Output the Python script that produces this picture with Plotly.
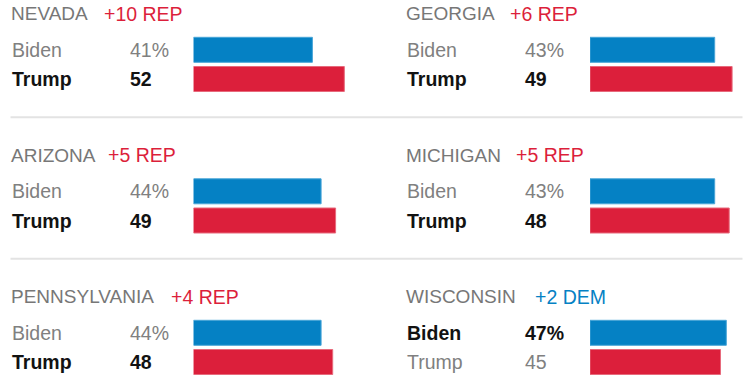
import plotly.graph_objects as go

# ---- data ----
states = ["NEVADA", "GEORGIA", "ARIZONA", "MICHIGAN", "PENNSYLVANIA", "WISCONSIN"]
margins = ["+10 REP", "+6 REP", "+5 REP", "+5 REP", "+4 REP", "+2 DEM"]
margin_party = ["REP", "REP", "REP", "REP", "REP", "DEM"]
candidates = ["Biden", "Trump"]
biden = [41, 43, 44, 43, 44, 47]
trump = [52, 49, 49, 48, 48, 45]

# ---- layout / style ----
W, H = 750, 375
MARGIN_LABEL_X = [101.5, 507.5, 105.5, 514.2, 169, 532.5]  # pixel x of "+N REP" labels
BLUE = "#0581c4"
RED = "#dc1f3b"
BLUE_EDGE = "#49a5d8"
RED_EDGE = "#e76a7c"
GRAY = "#808080"
BLACK = "#121212"
FONT = "Liberation Sans"
FS = 19.5
FS_TITLE = 19

def px(x):
    return x / W

def py(y):
    return 1 - y / H

fig = go.Figure()
annotations = []
layout = {}
PITCH = 29.2

for i, st in enumerate(states):
    col, row = i % 2, i // 2
    n = i + 1
    xs = "" if n == 1 else str(n)
    x0 = 193.5 + col * 396.5
    scale = 2.9
    xmax = 54
    top = 35.2 + 141.5 * row
    bot = min(top + 2 * PITCH, H)
    vals = [biden[i], trump[i]]
    fig.add_trace(go.Bar(
        x=vals, y=candidates, orientation="h",
        xaxis="x" + xs, yaxis="y" + xs,
        marker=dict(color=[BLUE, RED], line=dict(color=[BLUE_EDGE, RED_EDGE], width=1)),
        showlegend=False, hoverinfo="skip",
    ))
    layout["xaxis" + xs] = dict(
        domain=[px(x0), min(px(x0 + scale * xmax), 1)], range=[0, xmax],
        visible=False, fixedrange=True, anchor="y" + xs,
    )
    layout["yaxis" + xs] = dict(
        domain=[max(py(bot), 0), py(top)], type="category",
        categoryorder="array", categoryarray=candidates,
        range=[-0.5 + (bot - top) / PITCH, -0.5],
        visible=False, fixedrange=True, anchor="x" + xs,
    )
    win = 0 if biden[i] > trump[i] else 1
    tx = 10 + col * 395
    for k, cand in enumerate(candidates):
        bold = (k == win)
        label = f"{vals[k]}%" if k == 0 else f"{vals[k]}"
        color = BLACK if bold else GRAY
        for xx, txt in ((tx, cand), (tx + 117.5, label)):
            annotations.append(dict(
                x=px(xx), xref="paper", y=cand, yref="y" + xs,
                text=f"<b>{txt}</b>" if bold else txt,
                showarrow=False, xanchor="left", yanchor="middle",
                font=dict(family=FONT, size=FS, color=color),
            ))
    mcolor = RED if margin_party[i] == "REP" else BLUE
    ty = py(13.5 + 141.5 * row)
    annotations.append(dict(
        x=px(tx - 1), xref="paper", y=ty, yref="paper",
        text=st, showarrow=False, xanchor="left", yanchor="middle",
        font=dict(family=FONT, size=FS_TITLE, color="#777777"),
    ))
    annotations.append(dict(
        x=px(MARGIN_LABEL_X[i]), xref="paper", y=ty, yref="paper",
        text=margins[i], showarrow=False, xanchor="left", yanchor="middle",
        font=dict(family=FONT, size=FS, color=mcolor),
    ))

shapes = []
for yy in (117.3, 258.8):
    shapes.append(dict(
        type="line", xref="paper", yref="paper",
        x0=px(10.5), x1=px(742.5), y0=py(yy), y1=py(yy),
        line=dict(color="#e3e3e3", width=2),
    ))

fig.update_layout(
    width=W, height=H,
    margin=dict(l=0, r=0, t=0, b=0),
    paper_bgcolor="white", plot_bgcolor="white",
    bargap=0.144,
    annotations=annotations, shapes=shapes,
    **layout,
)

fig.write_html(
    "out.html",
    config={"displayModeBar": False},
    post_script="document.body.style.margin='0';document.body.style.overflow='hidden';",
)
